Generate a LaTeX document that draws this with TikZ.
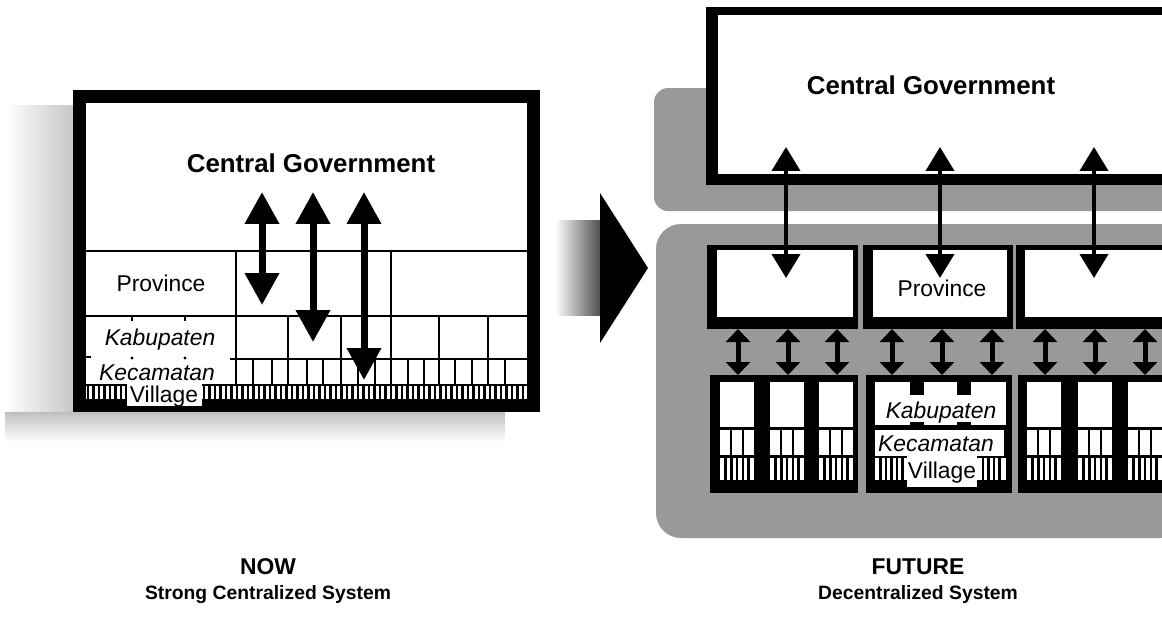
\documentclass[tikz,border=0pt]{standalone}
\usepackage{fontspec}
\setmainfont{Liberation Sans}
\usetikzlibrary{arrows.meta}
\definecolor{stipple}{gray}{0.6}

\begin{document}
\begin{tikzpicture}[x=0.02cm, y=-0.02cm,
    cgtext/.style={font=\bfseries\fontsize{14.7}{16}\selectfont, anchor=base, inner sep=0pt},
    lvltext/.style={font=\fontsize{13}{14}\selectfont, anchor=base, inner sep=0pt},
    lvlit/.style={font=\itshape\fontsize{13}{14}\selectfont, anchor=base, inner sep=0pt},
    captop/.style={font=\bfseries\fontsize{13}{15}\selectfont, anchor=base, inner sep=0pt},
    capsub/.style={font=\bfseries\fontsize{11}{13}\selectfont, anchor=base, inner sep=0pt},
    gridline/.style={line width=0.04cm},
    bigtwo/.style={line width=0.14cm, arrows={Triangle[width=0.66cm,length=0.64cm]-Triangle[width=0.66cm,length=0.64cm]}},
    midtwo/.style={line width=0.08cm, arrows={Triangle[width=0.56cm,length=0.48cm]-Triangle[width=0.56cm,length=0.48cm]}},
    smalltwo/.style={line width=0.1cm, arrows={Triangle[width=0.48cm,length=0.26cm]-Triangle[width=0.48cm,length=0.26cm]}}]
    \useasboundingbox (0,0) rectangle (1162,622);
    \fill[white] (0,0) rectangle (1162,622);

    % Now: shadow and frame
    \shade[left color=white, right color=black!22] (5,105) rectangle (73,440);
    \shade[top color=black!25, bottom color=white] (5,412) rectangle (505,442);
    \draw[line width=0.26cm, fill=white] (79.5,96.5) rectangle (533.5,405.5);
    % Now: levels
    \draw[gridline] (86,251) -- (527,251);
    \draw[gridline] (86,316) -- (527,316);
    \draw[gridline] (230,359) -- (527,359);
    \draw[gridline] (86,385) -- (127,385) (202,385) -- (527,385);
    \foreach \x in {236,391} \draw[gridline] (\x,251) -- (\x,385);
    \foreach \x in {288,341,439,488} \draw[gridline] (\x,316) -- (\x,385);
    \foreach \x in {253,272,307,323,358,375,408,424,455,472,505} \draw[gridline] (\x,359) -- (\x,385);
    \foreach \x in {88,93.5,...,127} \draw[line width=0.05cm] (\x,385) -- (\x,401);
    \foreach \x in {204,209.5,...,527} \draw[line width=0.05cm] (\x,385) -- (\x,401);
    \foreach \x in {132,185} {
        \draw[gridline] (\x,316) -- (\x,321);
        \fill (\x,358) circle (0.9pt);
    }
    \draw[gridline] (86,357) -- (91,357);
    \fill[white] (127,384) rectangle (202,406);
    % Now: labels
    \node[cgtext] (cgnow) at (311,172) {Central Government};
    \node[lvltext] (provnow) at (161,291) {Province};
    \node[lvlit] (kabnow) at (160,345) {Kabupaten};
    \node[lvlit] (kecnow) at (157,380) {Kecamatan};
    \node[lvltext] (vilnow) at (164,402) {Village};
    % Now: arrows
    \foreach \i/\x/\y in {1/262/305, 2/313/342, 3/364/380} {
        \coordinate (nowup\i) at (\x,192);
        \coordinate (nowdn\i) at (\x,\y);
        \draw[bigtwo] (nowup\i) -- (nowdn\i);
    }

    % Big arrow
    \shade[left color=white, right color=black!70] (555,220) rectangle (601,315);
    \fill (600,193) -- (648,268) -- (600,343) -- cycle;

    % Future: grey fields
    \fill[stipple, rounded corners=0.28cm] (654,88) rectangle (1185,211);
    \fill[stipple, rounded corners=0.5cm] (656,224) rectangle (1185,538);
    % Future: central government
    \fill (706,7) rectangle (1185,185);
    \fill[white] (718,15) rectangle (1185,174);
    \node[cgtext] (cgfut) at (931,94) {Central Government};
    % Future: provinces
    \foreach \a/\b/\c/\d in {707/858/717/853, 863/1013/873/1007, 1016/1185/1025/1185} {
        \fill (\a,245) rectangle (\b,329);
        \fill[white] (\c,250) rectangle (\d,317);
    }
    \node[lvltext] (provfut) at (942,296) {Province};
    \foreach \i/\x in {1/786, 2/940, 3/1094} {
        \coordinate (futup\i) at (\x,147);
        \coordinate (futdn\i) at (\x,278);
        \draw[midtwo] (futup\i) -- (futdn\i);
    }
    % Future: kabupaten groups
    \fill (710,375) rectangle (858,493);
    \fill (866,375) rectangle (1012,493);
    \fill (1018,375) rectangle (1185,493);
    \foreach \l in {720,770,819,1027,1078,1128} {
        \fill[white] (\l,382) rectangle ++(34,45);
        \foreach \k in {0,12,24} \fill[white] (\l+\k,430) rectangle ++(10,25);
        \fill[white] (\l,458) rectangle ++(34,22);
        \foreach \k in {5.7,11.4,...,30} \draw[line width=0.05cm] (\l+\k,458) -- ++(0,22);
    }
    \fill[white] (875,382) rectangle (1006,425);
    \fill[white] (875,430) rectangle (1004,456);
    \fill[white] (875,458) rectangle (1006,480);
    \foreach \x in {880.5,886,...,905,983,988.5,...,1004} \draw[line width=0.05cm] (\x,458) -- (\x,480);
    \fill[white] (907,456) rectangle (977,487);
    \foreach \x in {910,957} {
        \fill (\x,382) rectangle ++(14,13);
        \fill (\x,422) rectangle ++(14,8);
    }
    \node[lvlit] (kabfut) at (941,418) {Kabupaten};
    \node[lvlit] (kecfut) at (936,451) {Kecamatan};
    \node[lvltext] (vilfut) at (942,478) {Village};
    \foreach \i/\x in {1/738, 2/788, 3/837, 4/892, 5/942, 6/992, 7/1045, 8/1095, 9/1145} {
        \coordinate (kabup\i) at (\x,329);
        \coordinate (kabdn\i) at (\x,375);
        \draw[smalltwo] (kabup\i) -- (kabdn\i);
    }

    % Captions
    \node[captop] (now) at (268,574) {NOW};
    \node[capsub] (nowsub) at (268,599) {Strong Centralized System};
    \node[captop] (future) at (918,574) {FUTURE};
    \node[capsub] (futsub) at (918,599) {Decentralized System};
\end{tikzpicture}
\end{document}
